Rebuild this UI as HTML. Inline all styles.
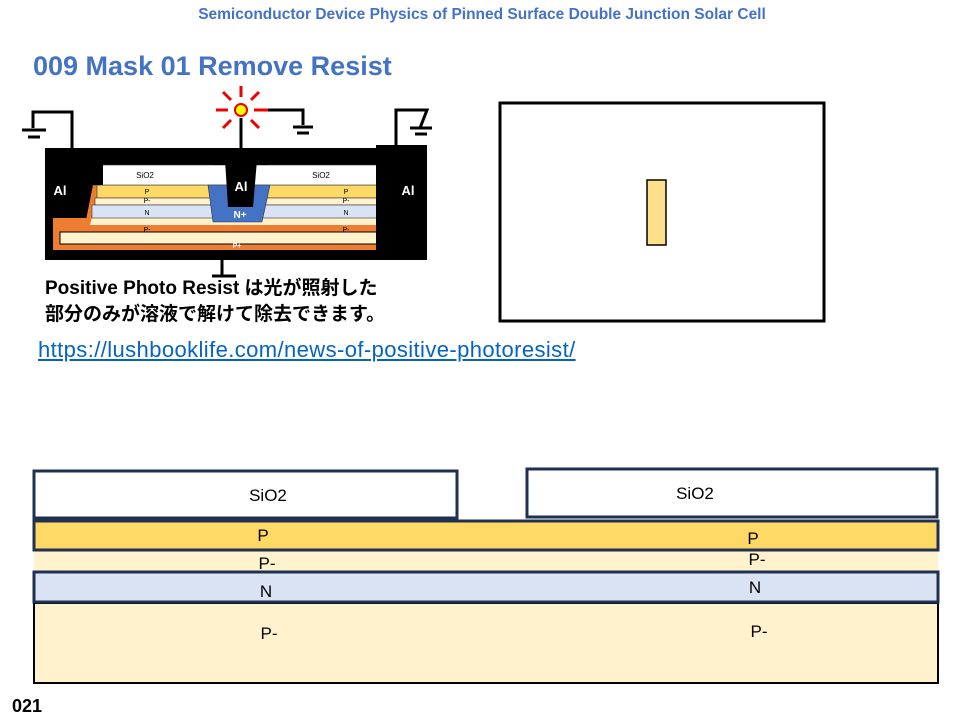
<!DOCTYPE html>
<html><head><meta charset="utf-8"><style>
body{margin:0;width:960px;height:720px;background:#fff;overflow:hidden;position:relative;font-family:"Liberation Sans","Noto Sans CJK JP",sans-serif}
.t{position:absolute;white-space:nowrap}
</style></head><body>
<svg width="960" height="720" style="position:absolute;left:0;top:0" font-family="Liberation Sans, Noto Sans CJK JP, sans-serif">
<rect x="45" y="148" width="382" height="112" fill="#000"/>
<rect x="53" y="218" width="367" height="32" fill="#ed7d31"/>
<polygon points="93,185 110,185 100,225 380,225 372,185 385,185 395,222 415,230 415,244 60,244 60,230 85,225" fill="#ed7d31"/>
<rect x="60" y="232" width="355" height="12" fill="#fff2cc" stroke="#000" stroke-width="1"/>
<polygon points="100,185 375,185 385,225 90,225" fill="#fff2cc"/>
<rect x="97" y="185" width="280" height="13" fill="#ffd966" stroke="#333" stroke-width="0.6"/>
<rect x="95" y="198" width="284" height="7" fill="#fff2cc" stroke="#333" stroke-width="0.6"/>
<rect x="92" y="205" width="290" height="13" fill="#dae3f3" stroke="#333" stroke-width="0.6"/>
<rect x="88" y="165" width="297" height="20" fill="#fff" stroke="#333" stroke-width="0.6"/>
<polygon points="208,185 270,185 262,222 213,222" fill="#4472c4" stroke="#333" stroke-width="0.6"/>
<rect x="213" y="148" width="56" height="17" fill="#000"/>
<polygon points="225,160 257,160 253,207 228,207" fill="#000"/>
<rect x="376" y="145" width="51" height="115" fill="#000"/>
<rect x="45" y="148" width="58" height="37" fill="#000"/>
<text x="145" y="178" font-size="8" text-anchor="middle">SiO2</text>
<text x="321" y="178" font-size="8" text-anchor="middle">SiO2</text>
<text x="147" y="194" font-size="7" text-anchor="middle">P</text>
<text x="147" y="203" font-size="7" text-anchor="middle">P-</text>
<text x="147" y="215" font-size="7" text-anchor="middle">N</text>
<text x="147" y="232" font-size="7" text-anchor="middle">P-</text>
<text x="346" y="194" font-size="7" text-anchor="middle">P</text>
<text x="346" y="203" font-size="7" text-anchor="middle">P-</text>
<text x="346" y="215" font-size="7" text-anchor="middle">N</text>
<text x="346" y="232" font-size="7" text-anchor="middle">P-</text>
<text x="240" y="218" font-size="10" font-weight="bold" fill="#fff" text-anchor="middle">N+</text>
<text x="237" y="248" font-size="7" font-weight="bold" fill="#fff" text-anchor="middle">P+</text>
<text x="60" y="195" font-size="13" font-weight="bold" fill="#fff" text-anchor="middle">Al</text>
<text x="241" y="191" font-size="13" font-weight="bold" fill="#fff" text-anchor="middle">Al</text>
<text x="408" y="195" font-size="13" font-weight="bold" fill="#fff" text-anchor="middle">Al</text>
<g stroke="#000" stroke-width="3" fill="none">
<polyline points="72,148 72,112 33,112 33,128"/>
<line x1="22" y1="130" x2="46" y2="130"/><line x1="28" y1="137" x2="40" y2="137"/>
<line x1="241" y1="148" x2="241" y2="118"/>
<polyline points="268,110 303,110 303,125"/>
<line x1="293" y1="127" x2="313" y2="127"/><line x1="297" y1="133" x2="309" y2="133"/>
<polyline points="396,145 396,110 427,110 420,128"/>
<line x1="410" y1="128" x2="432" y2="128"/><line x1="415" y1="134" x2="427" y2="134"/>
<line x1="222" y1="260" x2="222" y2="275"/><line x1="212" y1="276" x2="236" y2="276"/>
</g>
<g stroke="#e00" stroke-width="3">
<line x1="241" y1="86" x2="241" y2="97"/><line x1="216" y1="110" x2="228" y2="110"/><line x1="254" y1="110" x2="268" y2="110"/>
<line x1="223" y1="92" x2="231" y2="100"/><line x1="259" y1="92" x2="251" y2="100"/>
<line x1="223" y1="128" x2="231" y2="120"/><line x1="259" y1="128" x2="251" y2="120"/>
</g>
<circle cx="241" cy="110" r="6" fill="#ff0" stroke="#e00" stroke-width="2"/>
<rect x="500" y="103" width="324" height="218" fill="#fff" stroke="#000" stroke-width="3"/>
<rect x="647" y="180" width="19" height="65" fill="#ffe08a" stroke="#000" stroke-width="1.5"/>
<rect x="34" y="603" width="904" height="80" fill="#fff2cc" stroke="#000" stroke-width="2"/>
<rect x="34" y="551" width="904" height="20" fill="#fff2cc"/>
<rect x="34" y="572" width="904" height="30" fill="#dae3f3" stroke="#1f3050" stroke-width="3"/>
<rect x="34" y="521" width="904" height="29" fill="#ffd966" stroke="#1f3050" stroke-width="3"/>
<rect x="34" y="471" width="423" height="47" fill="#fff" stroke="#1f3050" stroke-width="3"/>
<rect x="527" y="469" width="410" height="48" fill="#fff" stroke="#1f3050" stroke-width="3"/>
<g font-size="17" fill="#000" text-anchor="middle">
<text x="268" y="501">SiO2</text><text x="695" y="499">SiO2</text>
<text x="263" y="541">P</text><text x="753" y="544">P</text>
<text x="267" y="569">P-</text><text x="757" y="565">P-</text>
<text x="266" y="597">N</text><text x="755" y="593">N</text>
<text x="269" y="639">P-</text><text x="759" y="637">P-</text>
</g>
</svg>
<div class="t" style="left:0;width:964px;text-align:center;top:6px;font-size:15.5px;font-weight:bold;color:#4472c4">Semiconductor Device Physics of Pinned Surface Double Junction Solar Cell</div>
<div class="t" style="left:33px;top:51px;font-size:27px;font-weight:bold;color:#4472c4">009 Mask 01 Remove Resist</div>
<div class="t" style="left:45px;top:276px;font-size:19px;font-weight:bold;line-height:26px">Positive Photo Resist は光が照射した<br>部分のみが溶液で解けて除去できます。</div>
<div class="t" style="left:38px;top:337px;font-size:22px;color:#0563c1;text-decoration:underline;letter-spacing:0.4px">https://lushbooklife.com/news-of-positive-photoresist/</div>
<div class="t" style="left:12px;top:696px;font-size:18px;font-weight:bold">021</div>
</body></html>
